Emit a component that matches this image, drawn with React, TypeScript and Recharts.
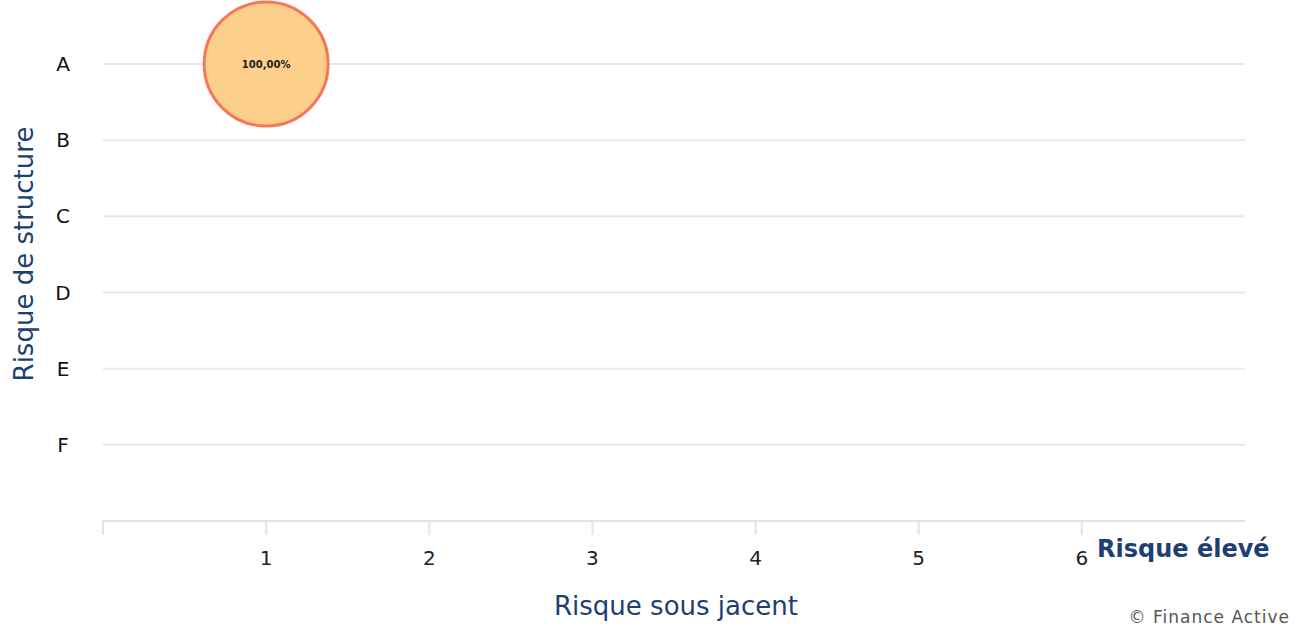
import { ScatterChart, Scatter, XAxis, YAxis, ZAxis, CartesianGrid, LabelList } from 'recharts';

// risk matrix: x = underlying risk (1..6), y = structure risk (A..F)
const structureLevels = ['F', 'E', 'D', 'C', 'B', 'A'];
const xTicks = [0, 1, 2, 3, 4, 5, 6];
const pointX = [1];
const pointY = ['A'];
const pointShare = [100];

const BLUE = '#1d3f72';
const FONT = '"DejaVu Sans", Verdana, sans-serif';

const points = pointX.map((x, i) => ({
  x,
  y: structureLevels.indexOf(pointY[i]) + 1,
  z: pointShare[i],
  label: pointShare[i].toFixed(2).replace('.', ',') + '%',
}));

const XTick = (props: any) => {
  const { x, y, payload } = props;
  if (payload.value === 0) return null;
  return (
    <text x={x} y={y + 28} textAnchor="middle" fontSize={20} fill="#222" fontFamily={FONT}>
      {payload.value}
    </text>
  );
};

const YTick = (props: any) => {
  const { y, payload } = props;
  return (
    <text x={63} y={y + 7} textAnchor="middle" fontSize={20} fill="#111" fontFamily={FONT}>
      {structureLevels[payload.value - 1]}
    </text>
  );
};

export default function App() {
  return (
    <div style={{ position: 'absolute', left: 0, top: 0, width: 1305, height: 627, background: '#fff' }}>
      <ScatterChart width={1305} height={627} margin={{ top: 64, right: 60, bottom: 76, left: 0 }}>
        <CartesianGrid vertical={false} stroke="#e8e8e8" strokeWidth={2} />
        <XAxis
          type="number"
          dataKey="x"
          domain={[0, 7]}
          ticks={xTicks}
          allowDecimals={false}
          stroke="#e3e3e3"
          strokeWidth={2}
          tickSize={14}
          tick={<XTick />}
        />
        <YAxis
          type="number"
          dataKey="y"
          domain={[0, 6]}
          ticks={[1, 2, 3, 4, 5, 6]}
          width={103}
          axisLine={false}
          tickLine={false}
          tick={<YTick />}
        />
        <ZAxis type="number" dataKey="z" range={[12070, 12070]} />
        <Scatter
          data={points}
          fill="#fcd08a"
          stroke="#f7765a"
          strokeWidth={3}
          isAnimationActive={false}
        >
          <LabelList
            dataKey="label"
            position="center"
            fill="#222"
            fontSize={10}
            fontWeight="bold"
            fontFamily={FONT}
          />
        </Scatter>
      </ScatterChart>
      <div
        style={{
          position: 'absolute',
          left: 24,
          top: 254,
          transform: 'translate(-50%, -50%) rotate(-90deg)',
          whiteSpace: 'nowrap',
          color: BLUE,
          fontSize: 26,
          fontFamily: FONT,
        }}
      >
        Risque de structure
      </div>
      <div
        style={{
          position: 'absolute',
          left: 676,
          top: 606,
          transform: 'translate(-50%, -50%)',
          whiteSpace: 'nowrap',
          color: BLUE,
          fontSize: 26,
          fontFamily: FONT,
        }}
      >
        Risque sous jacent
      </div>
      <div
        style={{
          position: 'absolute',
          left: 1097,
          top: 549,
          transform: 'translateY(-50%)',
          whiteSpace: 'nowrap',
          color: BLUE,
          fontSize: 24,
          fontWeight: 'bold',
          fontFamily: FONT,
        }}
      >
        Risque élevé
      </div>
      <div
        style={{
          position: 'absolute',
          right: 15,
          top: 617,
          transform: 'translateY(-50%)',
          whiteSpace: 'nowrap',
          color: '#555',
          fontSize: 17,
          letterSpacing: 1,
          fontFamily: FONT,
        }}
      >
        © Finance Active
      </div>
    </div>
  );
}
